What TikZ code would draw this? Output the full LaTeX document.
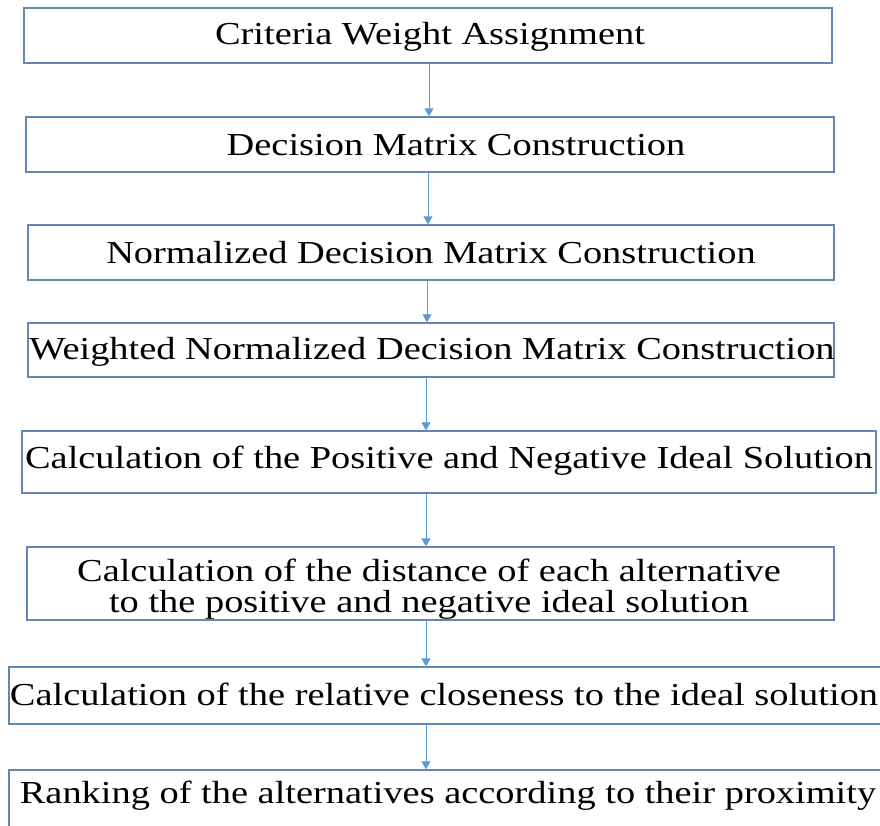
\documentclass[tikz,border=0pt]{standalone}
\usepackage{fontspec}
\setmainfont{Liberation Serif}[FakeStretch=1.2]
\usetikzlibrary{arrows.meta}
\begin{document}
\begin{tikzpicture}[x=1pt,y=-1pt,
  box/.style={draw=boxblue,line width=1.4pt,rectangle,inner sep=0pt},
  txt/.style={inner sep=0pt,font=\fontsize{32}{31}\selectfont,align=center},
  arr/.style={draw=arrblue,line width=1pt,-{Triangle[width=9pt,length=8pt]}}]
\definecolor{boxblue}{RGB}{98,135,180}
\definecolor{arrblue}{RGB}{91,155,213}
\useasboundingbox (0,0) rectangle (880,825);
\newcommand{\mybox}[5]{\node[box,minimum width={(#4-#2)*1pt},minimum height={(#5-#3)*1pt}] (#1) at ({(#2+#4)/2},{(#3+#5)/2}) {};}
\mybox{b1}{24}{8}{832}{63}
\mybox{b2}{26}{117}{834}{172}
\mybox{b3}{28}{225}{834}{280}
\mybox{b4}{28}{323}{834}{377}
\mybox{b5}{22}{431}{876}{493}
\mybox{b6}{27}{547}{834}{620}
\mybox{b7}{9}{667}{890}{724}
\mybox{b8}{9}{770}{890}{835}
\node[txt] (t1) at (430,37) {Criteria Weight Assignment};
\node[txt] (t2) at (456,145) {Decision Matrix Construction};
\node[txt] (t3) at (431,253) {Normalized Decision Matrix Construction};
\node[txt] (t4) at (432,352) {Weighted Normalized Decision Matrix Construction};
\node[txt] (t5) at (449,461) {Calculation of the Positive and Negative Ideal Solution};
\node[txt] (t6) at (429,589) {Calculation of the distance of each alternative\\to the positive and negative ideal solution};
\node[txt] (t7) at (444,694) {Calculation of the relative closeness to the ideal solution};
\node[txt] (t8) at (448,796) {Ranking of the alternatives according to their proximity};
\draw[arr] (b1.south -| 429,0) -- (b2.north -| 429,0);
\draw[arr] (b2.south -| 428,0) -- (b3.north -| 428,0);
\draw[arr] (b3.south -| 427,0) -- (b4.north -| 427,0);
\draw[arr] (b4.south -| 426,0) -- (b5.north -| 426,0);
\draw[arr] (b5.south -| 426,0) -- (b6.north -| 426,0);
\draw[arr] (b6.south -| 426,0) -- (b7.north -| 426,0);
\draw[arr] (b7.south -| 426,0) -- (b8.north -| 426,0);
\end{tikzpicture}
\end{document}
